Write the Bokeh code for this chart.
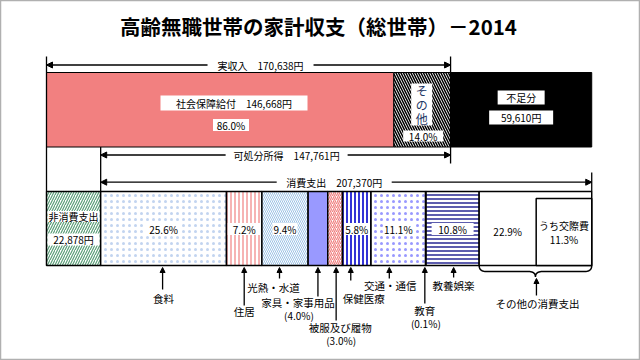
import numpy as np
from bokeh.plotting import figure
from bokeh.models import Range1d, Arrow, NormalHead
from bokeh.core.properties import value
from bokeh.embed import file_html
from bokeh.resources import INLINE

FONT = "Noto Sans CJK JP"

# ---------------- data ----------------
title = "高齢無職世帯の家計収支（総世帯）－2014"
income_total = 170638
income_labels = ["社会保障給付", "その他"]
income_values = [146668, 23970]
income_shares = [86.0, 14.0]
shortfall = 59610
non_consumption = 22878
disposable = 147761
consumption_total = 207370
categories = ["食料", "住居", "光熱・水道", "家具・家事用品", "被服及び履物",
              "保健医療", "交通・通信", "教育", "教養娯楽", "その他の消費支出"]
shares = [25.6, 7.2, 9.4, 4.0, 3.0, 5.8, 11.1, 0.1, 10.8, 22.9]
social_share = 11.3  # うち交際費

# ---------------- layout ----------------
K = 0.002368      # px per yen
X0 = 46           # page px of yen 0
W, H = 640, 360


def px(d):
    return d / K


p = figure(width=W, height=H, x_range=Range1d((0 - X0) / K, (W - X0) / K),
           y_range=Range1d(H, 0), toolbar_location=None, output_backend="svg",
           min_border=0)
p.axis.visible = False
p.grid.visible = False
p.outline_line_color = "#B0B0B0"
p.outline_line_width = 1.5
p.background_fill_color = "white"

BAR_LW = 1.5


def txt(x, y, s, size="10px", color="black", style="normal", align="center"):
    p.text(x=[x], y=[y], text=[s], text_font=value(FONT), text_font_size=size,
           text_align=align, text_baseline="middle", text_color=color,
           text_font_style=style)


def box(x, y, w, h):
    p.rect(x=[x], y=[y], width=[w], height=[h], width_units="screen",
           height_units="screen", fill_color="white", line_color=None)


def arrow(x1, y1, x2, y2, both=True, size=6):
    a = Arrow(x_start=x1, y_start=y1, x_end=x2, y_end=y2,
              end=NormalHead(size=size, fill_color="black", line_color="black", line_width=1),
              start=NormalHead(size=size, fill_color="black", line_color="black", line_width=1) if both else None,
              line_width=1.3, line_color="black", level="underlay")
    p.add_layout(a)


# title
txt(px(318 - X0), 25, title, size="20.5px", style="bold")

# ---------- top row ----------
TY0, TY1 = 72, 146.5
top_styles = [dict(fill_color="#F28080"),
              dict(fill_color="white", hatch_pattern="\\", hatch_color="black",
                   hatch_scale=5, hatch_weight=1.5)]
left = 0
top_bounds = []
for v, st in zip(income_values, top_styles):
    p.quad(left=[left], right=[left + v], top=[TY0], bottom=[TY1],
           line_color="black", line_width=1, **st)
    top_bounds.append((left, left + v))
    left += v
p.quad(left=[income_total], right=[income_total + shortfall], top=[TY0], bottom=[TY1],
       fill_color="black", line_color="black", line_width=1)

# extension lines
p.segment(x0=[0, income_total, income_total, non_consumption, income_total + shortfall],
          y0=[56, 56, TY1, TY1, 172],
          x1=[0, income_total, income_total, non_consumption, income_total + shortfall],
          y1=[191, TY0, 163, 191, 191], line_color="black", line_width=1.3)

# dimension arrows
arrow(0, 64.5, income_total, 64.5)
cx = income_total / 2 + px(12)
box(cx, 64.5, 106, 12)
txt(cx, 64.5, f"実収入　{income_total:,}円")

arrow(non_consumption, 154.5, income_total, 154.5)
cx = (non_consumption + income_total) / 2 + px(11)
box(cx, 154.5, 122, 12)
txt(cx, 154.5, f"可処分所得　{disposable:,}円")

arrow(non_consumption, 181.7, income_total + shortfall, 181.7)
cx = (non_consumption + income_total + shortfall) / 2 + px(-12)
box(cx, 181.7, 115, 12)
txt(cx, 181.7, f"消費支出　{consumption_total:,}円")

# top labels
m = top_bounds[0][0] + px(233.5 - X0)
box(m, 102.5, 147, 15)
txt(m, 102.5, f"{income_labels[0]}　{income_values[0]:,}円")
box(px(230.5 - X0), 124.5, 36, 12)
txt(px(230.5 - X0), 124.5, f"{income_shares[0]:.1f}%")

om = (top_bounds[1][0] + top_bounds[1][1]) / 2 - px(0.5)
box(om, 104, 21, 42)
for i, ch in enumerate(income_labels[1]):
    txt(om, 90 + i * 14, ch, size="12px", color="#1F3864")
box(om + px(1.5), 135.5, 40, 11)
txt(om + px(1.5), 135.5, f"{income_shares[1]:.1f}%")

sm = income_total + shortfall / 2
box(sm, 97, 47, 14)
txt(sm, 97, "不足分")
box(sm, 117, 64, 14)
txt(sm, 117, f"{shortfall:,}円")

# ---------- bottom row ----------
BY0, BY1 = 191, 265
p.quad(left=[0], right=[non_consumption], top=[BY0], bottom=[BY1],
       fill_color="white", hatch_pattern="/", hatch_color="#5A9E78", hatch_scale=5,
       hatch_weight=1.2, line_color="black", line_width=BAR_LW)
box(non_consumption / 2, 216, 52, 11)
txt(non_consumption / 2, 216, "非消費支出")
box(non_consumption / 2, 239, 52, 12)
txt(non_consumption / 2, 239, f"{non_consumption:,}円")

seg_styles = [
    dict(fill_color="white", hatch_pattern=".", hatch_color="#C2D4F0", hatch_scale=6, hatch_weight=1),
    dict(fill_color="white", hatch_pattern="|", hatch_color="#F08080", hatch_scale=4, hatch_weight=1.2),
    dict(fill_color="white", hatch_pattern="\\", hatch_color="#9DC3E6", hatch_scale=4, hatch_weight=1),
    dict(fill_color="#9999FF"),
    dict(fill_color="white", hatch_pattern="/", hatch_color="#F08080", hatch_scale=4, hatch_weight=1.2),
    dict(fill_color="white", hatch_pattern="|", hatch_color="#0000CC", hatch_scale=4, hatch_weight=1.6),
    dict(fill_color="white", hatch_pattern=".", hatch_color="#9999FF", hatch_scale=6, hatch_weight=1),
    dict(fill_color="white"),
    dict(fill_color="white", hatch_pattern="-", hatch_color="#333399", hatch_scale=4, hatch_weight=1.6),
    dict(fill_color="white"),
]
inside_box_w = [36, 33, 25, 0, 0, 25, 30, 0, 42, 0]
arrow_dx = [-1, 0, -5.5, 0, 1, -6, -9, -1, 1, 1]
arrow_bottom = [289, 305, 278, 296, 320, 280, 278, 303, 277, 295]
label_dx = [1, 0, -6, -20, 4, 13, 1, 0, 0, 1]
label_y = [298, 311, 287, 302, 327, 298, 285, 310, 285, 303]
pct_below = [False, False, False, True, True, False, False, True, False, False]

tot = sum(shares)
left = non_consumption
bounds = []
for c, s, st in zip(categories, shares, seg_styles):
    w = consumption_total * s / tot
    p.quad(left=[left], right=[left + w], top=[BY0], bottom=[BY1],
           line_color="black", line_width=BAR_LW, **st)
    bounds.append((left, left + w))
    left += w

# inner box (うち交際費)
ol, orr = bounds[-1]
inner_w = consumption_total * social_share / tot
p.quad(left=[orr - inner_w], right=[orr], top=[198], bottom=[BY1],
       fill_color="white", line_color="black", line_width=BAR_LW)
txt(orr - inner_w / 2, 225, "うち交際費")
txt(orr - inner_w / 2, 239, f"{social_share:.1f}%")


def qb(p0, p1, p2, n=12):
    t = np.linspace(0, 1, n)[:, None]
    return (1 - t) ** 2 * np.array(p0) + 2 * (1 - t) * t * np.array(p1) + t ** 2 * np.array(p2)


for i, (c, s) in enumerate(zip(categories, shares)):
    l, r = bounds[i]
    mid = (l + r) / 2
    if inside_box_w[i] > 0:
        box(mid, 228.5, inside_box_w[i], 12)
        txt(mid, 228.5, f"{s:.1f}%")
    ax = mid + px(arrow_dx[i])
    if i == len(categories) - 1:
        txt((l + orr - inner_w) / 2, 230.5, f"{s:.1f}%")
        mm = (l + r) / 2
        pts = np.vstack([
            qb((l, 265), (l, 271), (l + px(7), 271)),
            qb((mm - px(7), 271), (mm, 271), (mm, 276.5)),
            qb((mm, 276.5), (mm, 271), (mm + px(7), 271)),
            qb((r - px(7), 271), (r, 271), (r, 265)),
        ])
        p.line(pts[:, 0], pts[:, 1], line_color="black", line_width=1.5)
        arrow(ax, arrow_bottom[i], ax, 278, both=False, size=5)
    else:
        arrow(ax, arrow_bottom[i], ax, 267, both=False, size=5)
    lx = ax + px(label_dx[i])
    txt(lx, label_y[i], c, size="10.5px")
    if pct_below[i]:
        txt(lx + px(1), label_y[i] + 13, f"({s:.1f}%)", size="10px")

open("out.html", "w").write(file_html(p, INLINE))
